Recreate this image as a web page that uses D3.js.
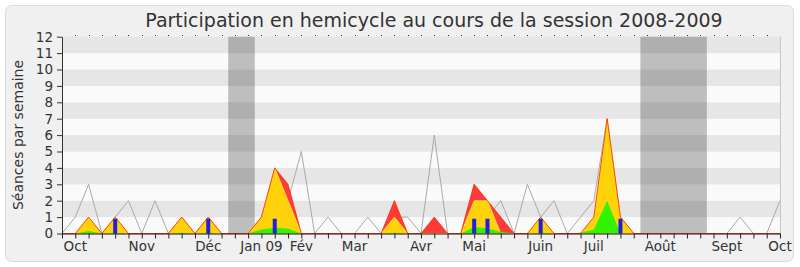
<!DOCTYPE html>
<html>
<head>
<meta charset="utf-8">
<script src="https://cdn.jsdelivr.net/npm/d3@7"></script>
<style>
  body { margin: 0; background: #fff; }
  text { font-family: "DejaVu Sans", sans-serif; fill: #333; }
</style>
</head>
<body>
<svg id="chart" width="800" height="267"></svg>
<script>
// weeks 0..54, Oct 2008 -> Oct 2009
const total    = [0,1,3,0,1,2,0,2,0,1,0,1,0,0,0,1,4,2,5,0,1,0,0,1,0,1,1,0,6,0,0,3,1,2,0,3,1,2,0,1,2,7,1,0,0,0,0,0,0,0,0,1,0,0,2];
const presence = [0,0,1,0,1,0,0,0,0,1,0,1,0,0,0,1,4,3,0,0,0,0,0,0,0,2,0,0,1,0,0,3,2,1,0,0,1,0,0,0,1,7,1,0,0,0,0,0,0,0,0,0,0,0,0];
const active   = [0,0,1,0,1,0,0,0,0,1,0,1,0,0,0,1,4,2,0,0,0,0,0,0,0,1,0,0,0,0,0,2,2,0,0,0,1,0,0,0,1,7,1,0,0,0,0,0,0,0,0,0,0,0,0];
const speaking = [0,0,0.15,0,0.05,0,0,0,0,0.05,0,0.05,0,0,0,0.25,0.35,0.3,0,0,0,0,0,0,0,0.05,0,0,0,0,0,0.4,0.3,0.1,0,0,0.05,0,0,0.05,0.25,2,0,0,0,0,0,0,0,0,0,0,0,0,0];
const questionWeeks = [4, 11, 16, 31, 32, 36, 42];
const questionValue = [0.9, 0.9, 0.9, 0.9, 0.9, 0.9, 0.9];
const vacations = [[12.5, 14.5], [43.5, 48.5]];
const monthLabels = ["Oct", "Nov", "Déc", "Jan 09", "Fév", "Mar", "Avr", "Mai", "Juin", "Juil", "Août", "Sept", "Oct"];
const monthWeeks  = [1, 6, 11, 15, 18, 22, 27, 31, 36, 40, 45, 50, 54];
const yTicks = d3.range(0, 13);

const svg = d3.select("#chart");
const x = d3.scaleLinear().domain([0, 54]).range([62, 780]);
const y = d3.scaleLinear().domain([0, 12]).range([233.5, 36.7]);

// frame
svg.append("rect").attr("x", 5.5).attr("y", 5.5).attr("width", 788).attr("height", 256)
  .attr("rx", 6).attr("fill", "#f0f0f0").attr("stroke", "#dcdcdc");

// stripes
svg.selectAll("rect.stripe").data(d3.range(0, 12)).enter().append("rect")
  .attr("class", "stripe")
  .attr("x", x(0)).attr("width", x(54) - x(0))
  .attr("y", d => y(d + 1)).attr("height", d => y(d) - y(d + 1))
  .attr("fill", d => d % 2 ? "#e6e6e6" : "#fafafa");

// vacation bands
svg.selectAll("rect.vac").data(vacations).enter().append("rect")
  .attr("x", d => x(d[0])).attr("width", d => x(d[1]) - x(d[0]))
  .attr("y", y(12)).attr("height", y(0) - y(12))
  .attr("fill", "#000").attr("opacity", 0.24);

// right border
svg.append("line").attr("x1", x(54) + 0.5).attr("x2", x(54) + 0.5).attr("y1", y(12)).attr("y2", y(0))
  .attr("stroke", "#c8c8c8");

const idx = d3.range(0, 55);
const area = vals => d3.area().x(i => x(i)).y0(y(0)).y1(i => y(vals[i]));
const line = vals => d3.line().x(i => x(i)).y(i => y(vals[i]));

svg.append("path").datum(idx).attr("d", line(total))
  .attr("fill", "none").attr("stroke", "#aaa").attr("stroke-width", 1);

svg.append("path").datum(idx).attr("d", area(presence)).attr("fill", "#ff3a3a");
svg.append("path").datum(idx).attr("d", area(active)).attr("fill", "#ffd20a")
  .attr("stroke", "#ffe84a").attr("stroke-width", 0.8);
svg.append("path").datum(idx).attr("d", area(speaking)).attr("fill", "#33f400");
svg.append("path").datum(idx).attr("d", line(presence))
  .attr("fill", "none").attr("stroke", "#ff3000").attr("stroke-width", 1).attr("opacity", 0.85);

// question bars
svg.selectAll("rect.q").data(questionWeeks).enter().append("rect")
  .attr("x", d => x(d) - 2).attr("width", 4)
  .attr("y", (d, i) => y(questionValue[i])).attr("height", (d, i) => y(0) - y(questionValue[i]))
  .attr("fill", "#2020dd");

// axes
const yAxis = d3.axisLeft(y).tickValues(yTicks).tickSize(5).tickSizeOuter(0).tickFormat(d3.format("d"));
const gy = svg.append("g").attr("transform", "translate(" + x(0) + ",0)").call(yAxis);
gy.selectAll("text").style("font-size", "13.5px").attr("dx", "-1");
gy.selectAll("line, path").attr("stroke", "#333");

const xAxis = d3.axisBottom(x).tickValues(idx).tickSize(5).tickSizeOuter(0).tickFormat("");
const gx = svg.append("g").attr("transform", "translate(0," + y(0) + ")").call(xAxis);
gx.selectAll("line").attr("stroke", "#222");
gx.select("path").attr("stroke", "#2a1010");

svg.selectAll("rect.topdot").data(idx.slice(1, 54)).enter().append("rect")
  .attr("x", d => Math.round(x(d))).attr("y", 35).attr("width", 1).attr("height", 1).attr("fill", "#333");

svg.selectAll("text.month").data(monthLabels).enter().append("text")
  .attr("x", (d, i) => x(monthWeeks[i])).attr("y", 250.5)
  .attr("text-anchor", "middle").style("font-size", "13.5px").text(d => d);

svg.append("text").attr("x", 434).attr("y", 27).attr("text-anchor", "middle")
  .style("font-size", "19px").text("Participation en hemicycle au cours de la session 2008-2009");

svg.append("text").attr("transform", "translate(23,135) rotate(-90)").attr("text-anchor", "middle")
  .style("font-size", "14px").text("Séances par semaine");
</script>
</body>
</html>
